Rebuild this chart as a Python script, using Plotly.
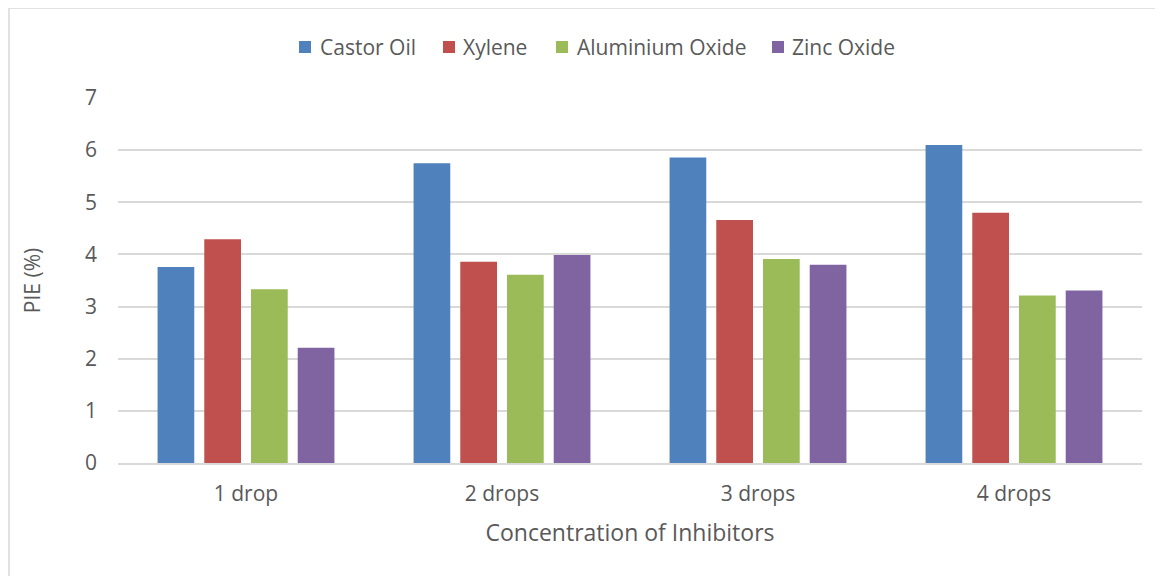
import plotly.graph_objects as go

categories = ["1 drop", "2 drops", "3 drops", "4 drops"]
castor_oil = [3.76, 5.75, 5.86, 6.10]
xylene = [4.29, 3.86, 4.66, 4.80]
aluminium_oxide = [3.33, 3.61, 3.91, 3.21]
zinc_oxide = [2.21, 3.99, 3.80, 3.31]
y_ticks = [0, 1, 2, 3, 4, 5, 6, 7]

series_names = ["Castor Oil", "Xylene", "Aluminium Oxide", "Zinc Oxide"]
series_values = [castor_oil, xylene, aluminium_oxide, zinc_oxide]
series_colors = ["#4F81BD", "#C0504D", "#9BBB59", "#8064A2"]

FONT = "Open Sans"
TXT = "#595959"

# plot area in page pixels (page has 8px body margin)
PL, PR, PT, PB = 118, 1142, 98, 463


def px(x):
    return (x - PL) / (PR - PL)


def py(y):
    return (PB - y) / (PB - PT)


fig = go.Figure()
for name, vals, color in zip(series_names, series_values, series_colors):
    fig.add_trace(go.Bar(
        name=name, x=categories, y=vals,
        marker=dict(color=color, line=dict(width=0)),
        showlegend=False,
    ))

# manual legend (squares + labels)
legend_sq_x = [299, 443, 556, 772]
legend_txt_x = [318, 461, 575, 790]
legend_y = 47
shapes = []
annotations = []
for name, color, sx, tx in zip(series_names, series_colors, legend_sq_x, legend_txt_x):
    shapes.append(dict(
        type="rect", xref="paper", yref="paper",
        x0=px(sx), x1=px(sx + 12), y0=py(legend_y + 6), y1=py(legend_y - 6),
        fillcolor=color, line=dict(width=0),
    ))
    annotations.append(dict(
        text=name, xref="paper", yref="paper", x=px(tx), y=py(legend_y),
        xanchor="left", yanchor="middle", showarrow=False,
        font=dict(family=FONT, size=21, color=TXT),
    ))

shapes.append(dict(
    type="rect", xref="paper", yref="paper",
    x0=px(9), x1=1.2, y0=-0.6, y1=py(8),
    line=dict(color="#D9D9D9", width=1.5), fillcolor="rgba(0,0,0,0)", layer="below",
))

fig.update_layout(
    width=1155, height=568,
    margin=dict(l=110, r=21, t=90, b=113),
    paper_bgcolor="white", plot_bgcolor="white",
    barmode="group", bargap=0.27, bargroupgap=0.214,
    font=dict(family=FONT, color=TXT, size=21),
    showlegend=False,
    xaxis=dict(
        showgrid=False, showline=True, linecolor="#D9D9D9", linewidth=1.5,
        ticks="", tickfont=dict(family=FONT, size=21, color=TXT),
        ticklabelstandoff=11,
        title=dict(text="Concentration of Inhibitors", font=dict(family=FONT, size=23, color=TXT), standoff=19),
    ),
    yaxis=dict(
        range=[0, 7], tickvals=y_ticks, showgrid=True, gridcolor="#D9D9D9", gridwidth=1.5,
        zeroline=False, showline=False, ticks="",
        tickfont=dict(family=FONT, size=21, color=TXT),
        ticklabelstandoff=20,
        title=dict(text="PIE (%)", font=dict(family=FONT, size=21, color=TXT), standoff=38),
    ),
    shapes=shapes,
    annotations=annotations,
)

fig.write_html("out.html")
